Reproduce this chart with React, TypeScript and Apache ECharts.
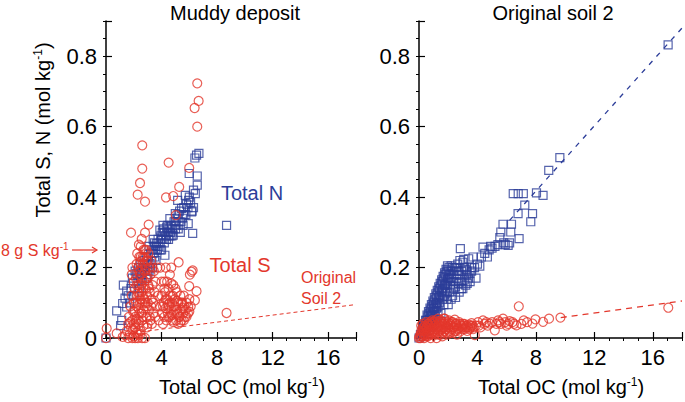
import React, { useEffect, useRef } from "react";
import * as echarts from "echarts";

// ---- Data (Total OC, Total S/N) in mol kg-1 ----
const MUDDY_N: [number, number][] = [
  [0, 0], [0.77, 0.077], [1.13, 0.05], [1.05, 0.035], [1.2, 0.098], [1.25, 0.15], [1.37, 0.113], [1.49, 0.133],
  [1.49, 0.088], [1.6, 0.12], [1.7, 0.1], [1.8, 0.14], [1.9, 0.17], [1.96, 0.155], [2.0, 0.12], [2.1, 0.19],
  [2.21, 0.183], [2.3, 0.16], [2.35, 0.2], [2.4, 0.14], [2.5, 0.21], [2.55, 0.18], [2.6, 0.165], [2.7, 0.2],
  [2.75, 0.22], [2.8, 0.19], [2.9, 0.17], [2.95, 0.21], [3.0, 0.2], [3.05, 0.23], [3.1, 0.19], [3.17, 0.211],
  [3.2, 0.24], [3.3, 0.22], [3.35, 0.2], [3.4, 0.24], [3.45, 0.26], [3.5, 0.23], [3.55, 0.25], [3.6, 0.22],
  [3.65, 0.268], [3.7, 0.25], [3.75, 0.28], [3.8, 0.26], [3.88, 0.306], [3.9, 0.27], [3.95, 0.29], [4.0, 0.25],
  [4.05, 0.3], [4.1, 0.28], [4.15, 0.31], [4.2, 0.27], [4.24, 0.235], [4.3, 0.29], [4.37, 0.315], [4.4, 0.3],
  [4.45, 0.32], [4.5, 0.28], [4.55, 0.31], [4.6, 0.339], [4.65, 0.3], [4.7, 0.32], [4.75, 0.29], [4.84, 0.292],
  [4.9, 0.33], [4.99, 0.353], [5.0, 0.31], [5.05, 0.32], [5.1, 0.34], [5.16, 0.391], [5.2, 0.31], [5.25, 0.33],
  [5.3, 0.36], [5.35, 0.3], [5.44, 0.368], [5.5, 0.34], [5.55, 0.32], [5.6, 0.37], [5.71, 0.405], [5.75, 0.35],
  [5.8, 0.38], [5.92, 0.325], [5.95, 0.391], [5.99, 0.467], [6.09, 0.385], [6.16, 0.358], [6.2, 0.36],
  [6.24, 0.297], [6.3, 0.37], [6.4, 0.511], [6.43, 0.41], [6.52, 0.519], [6.57, 0.46], [6.57, 0.434],
  [6.69, 0.524], [8.68, 0.32],
  [2.3, 0.18], [2.5, 0.17], [2.6, 0.19], [2.8, 0.21], [3.0, 0.18], [3.2, 0.2], [3.3, 0.25], [3.5, 0.27],
  [3.6, 0.26], [3.9, 0.25], [4.0, 0.28], [4.2, 0.3], [4.35, 0.28], [4.5, 0.3], [4.6, 0.29], [4.8, 0.31],
  [5.0, 0.33], [5.2, 0.35], [5.4, 0.33], [5.6, 0.35], [5.9, 0.37], [6.0, 0.4], [6.3, 0.42], [2.9, 0.23],
  [3.1, 0.26], [3.4, 0.28], [4.1, 0.32]
];

const MUDDY_S: [number, number][] = [
  [0, 0], [0.05, 0.027], [0.77, 0.013], [1.37, 0.008], [1.2, 0.003], [1.5, 0.02], [1.6, 0.04], [1.65, 0.06],
  [1.7, 0.01], [1.75, 0.09], [1.8, 0.03], [1.8, 0.299], [1.85, 0.12], [1.9, 0.05], [1.9, 0.2], [1.95, 0.075],
  [2.0, 0.005], [2.0, 0.1], [2.05, 0.14], [2.1, 0.03], [2.1, 0.06], [2.15, 0.17], [2.2, 0.09], [2.2, 0.21],
  [2.25, 0.12], [2.28, 0.407], [2.3, 0.0], [2.3, 0.04], [2.35, 0.15], [2.37, 0.265], [2.4, 0.07], [2.4, 0.19],
  [2.45, 0.44], [2.45, 0.1], [2.5, 0.02], [2.5, 0.23], [2.55, 0.13], [2.57, 0.281], [2.6, 0.05], [2.6, 0.17],
  [2.61, 0.547], [2.61, 0.481], [2.65, 0.21], [2.7, 0.08], [2.7, 0.25], [2.75, 0.11], [2.8, 0.0], [2.8, 0.19],
  [2.81, 0.387], [2.81, 0.299], [2.85, 0.14], [2.9, 0.06], [2.9, 0.22], [2.95, 0.03], [3.0, 0.17], [3.0, 0.1],
  [3.05, 0.24], [3.07, 0.322], [3.1, 0.08], [3.1, 0.2], [3.15, 0.13], [3.2, 0.05], [3.2, 0.18], [3.25, 0.22],
  [3.3, 0.11], [3.35, 0.15], [3.4, 0.07], [3.45, 0.19], [3.5, 0.13], [3.55, 0.16], [3.6, 0.09], [3.7, 0.2],
  [3.75, 0.12], [2.2, 0.015], [2.35, 0.05], [2.45, 0.18], [2.55, 0.07], [2.65, 0.12], [2.75, 0.16], [2.85, 0.2],
  [2.95, 0.09], [3.05, 0.15], [2.25, 0.24], [2.4, 0.23], [2.6, 0.2], [2.75, 0.23], [2.9, 0.25], [2.5, 0.26],
  [2.3, 0.2], [2.15, 0.1], [2.0, 0.16], [1.85, 0.18], [2.7, 0.035], [2.45, 0.01], [2.1, 0.0], [2.6, 0.0],
  [3.0, 0.04], [3.3, 0.04], [2.15, 0.045], [1.95, 0.025],
  [1.6, 0.0], [1.9, 0.0], [1.75, 0.045], [2.05, 0.075], [2.2, 0.055], [2.35, 0.085], [2.5, 0.11], [2.65, 0.06],
  [2.8, 0.09], [2.95, 0.12], [3.1, 0.14], [3.25, 0.09], [2.0, 0.04], [2.3, 0.13], [2.55, 0.15], [2.7, 0.14],
  [2.85, 0.1], [3.15, 0.06], [2.4, 0.12], [2.2, 0.15], [2.6, 0.1], [2.9, 0.17], [3.35, 0.2], [2.45, 0.215],
  [2.65, 0.23], [2.8, 0.25], [3.0, 0.22], [3.4, 0.1], [3.55, 0.06], [2.3, 0.01],
  [3.8, 0.05], [3.9, 0.09], [4.0, 0.12], [4.05, 0.07], [4.1, 0.04], [4.15, 0.1], [4.2, 0.06], [4.2, 0.16],
  [4.25, 0.13], [4.3, 0.085], [4.32, 0.399], [4.35, 0.05], [4.4, 0.11], [4.45, 0.07], [4.5, 0.14], [4.51, 0.498],
  [4.55, 0.09], [4.6, 0.06], [4.6, 0.18], [4.65, 0.12], [4.7, 0.08], [4.75, 0.1], [4.8, 0.05], [4.84, 0.403],
  [4.85, 0.15], [4.9, 0.07], [4.95, 0.11], [5.0, 0.09], [5.03, 0.349], [5.05, 0.05], [5.1, 0.13], [5.15, 0.07],
  [5.2, 0.1], [5.23, 0.215], [5.27, 0.429], [5.3, 0.06], [5.35, 0.12], [5.4, 0.08], [5.45, 0.05], [5.5, 0.1],
  [5.55, 0.07], [5.6, 0.12], [5.65, 0.09], [5.7, 0.06], [5.75, 0.08], [5.8, 0.1], [5.9, 0.07], [5.92, 0.088],
  [5.99, 0.147], [5.99, 0.483], [6.04, 0.18], [6.1, 0.09], [6.16, 0.188], [6.24, 0.192], [6.38, 0.653],
  [6.4, 0.107], [6.52, 0.133], [6.57, 0.6], [6.57, 0.723], [6.67, 0.673], [8.68, 0.071], [4.4, 0.16],
  [4.7, 0.155], [4.0, 0.16], [3.9, 0.2], [4.3, 0.2], [5.2, 0.04], [5.0, 0.14], [4.8, 0.12], [5.6, 0.05],
  [6.0, 0.11], [4.7, 0.2],
  [4.1, 0.09], [4.3, 0.11], [4.45, 0.095], [4.6, 0.1], [4.75, 0.065], [4.9, 0.09], [5.05, 0.08], [5.25, 0.06],
  [5.4, 0.1], [5.55, 0.085], [5.1, 0.105], [4.5, 0.06], [5.8, 0.06], [6.0, 0.075], [4.2, 0.14], [4.85, 0.045],
  [5.35, 0.045]
];

const SOIL2_N: [number, number][] = [
  [0, 0], [0.1, 0.01], [0.15, 0.005], [0.2, 0.02], [0.25, 0.01], [0.3, 0.03], [0.3, 0.015], [0.35, 0.02],
  [0.4, 0.04], [0.4, 0.025], [0.45, 0.03], [0.5, 0.05], [0.5, 0.02], [0.55, 0.04], [0.6, 0.06], [0.6, 0.03],
  [0.65, 0.045], [0.7, 0.07], [0.7, 0.04], [0.75, 0.055], [0.8, 0.08], [0.8, 0.05], [0.85, 0.065], [0.9, 0.09],
  [0.9, 0.06], [0.95, 0.075], [1.0, 0.1], [1.0, 0.05], [1.05, 0.085], [1.1, 0.11], [1.1, 0.075], [1.15, 0.095],
  [1.2, 0.12], [1.2, 0.085], [1.25, 0.1], [1.3, 0.13], [1.3, 0.09], [1.35, 0.115], [1.4, 0.14], [1.4, 0.1],
  [1.45, 0.12], [1.5, 0.15], [1.5, 0.07], [1.55, 0.13], [1.6, 0.16], [1.6, 0.11], [1.65, 0.14], [1.7, 0.17],
  [1.7, 0.12], [1.75, 0.15], [1.8, 0.18], [1.8, 0.125], [1.85, 0.155], [1.9, 0.19], [1.9, 0.13], [1.95, 0.165],
  [2.0, 0.19], [2.0, 0.095], [2.05, 0.17], [2.1, 0.18], [2.15, 0.15], [2.2, 0.19], [2.25, 0.16], [2.3, 0.2],
  [2.35, 0.14], [2.4, 0.18], [2.5, 0.115], [2.55, 0.2], [2.6, 0.17], [2.7, 0.19], [2.75, 0.13], [2.8, 0.22],
  [2.83, 0.254], [2.9, 0.16], [3.0, 0.14], [3.06, 0.223], [3.1, 0.2], [3.2, 0.15], [3.3, 0.19], [3.4, 0.17],
  [3.5, 0.16], [3.6, 0.19], [3.7, 0.23], [3.8, 0.2], [3.9, 0.17], [4.0, 0.21], [4.16, 0.204], [4.27, 0.23],
  [4.38, 0.258], [4.5, 0.24], [4.68, 0.23], [4.8, 0.25], [4.9, 0.26], [5.0, 0.255], [5.2, 0.26], [5.4, 0.265],
  [5.53, 0.285], [5.6, 0.301], [5.75, 0.323], [5.8, 0.27], [5.9, 0.265], [6.1, 0.263], [6.2, 0.27],
  [6.28, 0.301], [6.33, 0.323], [6.45, 0.41], [6.78, 0.353], [6.79, 0.41], [6.85, 0.282], [7.14, 0.41],
  [7.24, 0.377], [7.65, 0.33], [7.77, 0.353], [8.04, 0.412], [8.49, 0.405], [8.88, 0.476], [9.64, 0.512],
  [17.05, 0.832],
  [0.35, 0.035], [0.45, 0.05], [0.55, 0.065], [0.65, 0.075], [0.75, 0.085], [0.85, 0.095], [0.95, 0.105],
  [1.05, 0.115], [1.15, 0.125], [1.25, 0.135], [1.35, 0.145], [1.45, 0.155], [1.55, 0.165], [1.65, 0.175],
  [1.75, 0.185], [1.85, 0.195], [1.95, 0.205], [0.6, 0.045], [0.8, 0.065], [1.0, 0.085], [1.2, 0.1],
  [1.4, 0.12], [1.6, 0.135], [1.8, 0.15], [2.0, 0.17], [2.2, 0.17], [2.4, 0.16], [2.6, 0.19], [2.8, 0.18],
  [3.0, 0.215], [3.2, 0.195], [3.4, 0.225], [3.6, 0.2], [2.1, 0.13], [2.3, 0.12], [2.5, 0.145], [2.7, 0.155],
  [2.9, 0.14], [3.1, 0.165], [3.3, 0.155], [3.5, 0.185], [1.7, 0.095], [1.9, 0.11], [2.2, 0.11], [1.3, 0.065],
  [1.1, 0.06], [0.9, 0.045], [0.7, 0.03], [2.45, 0.2], [2.65, 0.21], [2.2, 0.205], [2.9, 0.19], [3.25, 0.18],
  [2.05, 0.2], [1.15, 0.055]
];

const SOIL2_S: [number, number][] = [
  [0, 0], [0.05, 0.005], [0.1, 0.01], [0.1, 0.0], [0.15, 0.02], [0.2, 0.005], [0.2, 0.015], [0.25, 0.025],
  [0.3, 0.01], [0.3, 0.03], [0.35, 0.0], [0.35, 0.02], [0.4, 0.035], [0.4, 0.01], [0.45, 0.025], [0.5, 0.045],
  [0.5, 0.015], [0.55, 0.03], [0.6, 0.005], [0.6, 0.04], [0.65, 0.02], [0.7, 0.035], [0.7, 0.01], [0.75, 0.045],
  [0.8, 0.025], [0.85, 0.04], [0.9, 0.015], [0.9, 0.05], [0.95, 0.03], [1.0, 0.02], [1.0, 0.045], [1.05, 0.035],
  [1.1, 0.01], [1.1, 0.05], [1.15, 0.025], [1.2, 0.04], [1.25, 0.015], [1.3, 0.055], [1.3, 0.03], [1.35, 0.02],
  [1.4, 0.045], [1.45, 0.035], [1.5, 0.01], [1.5, 0.05], [1.55, 0.025], [1.6, 0.04], [1.65, 0.03], [1.7, 0.055],
  [1.75, 0.02], [1.76, 0.055], [1.8, 0.045], [1.85, 0.035], [1.9, 0.015], [1.95, 0.04], [2.0, 0.03], [2.05, 0.05],
  [2.1, 0.02], [2.15, 0.04], [2.2, 0.035], [2.25, 0.025], [2.3, 0.045], [2.35, 0.015], [2.4, 0.03], [2.45, 0.052],
  [2.5, 0.04], [2.55, 0.02], [2.6, 0.035], [2.7, 0.028], [2.75, 0.045], [2.8, 0.018], [2.9, 0.035], [3.0, 0.025],
  [3.1, 0.04], [3.2, 0.03], [3.3, 0.02], [3.4, 0.038], [3.5, 0.03], [3.6, 0.042], [3.7, 0.025], [3.82, 0.008],
  [3.9, 0.035], [4.04, 0.045], [4.2, 0.03], [4.38, 0.05], [4.5, 0.04], [4.7, 0.035], [4.84, 0.041], [5.0, 0.045],
  [5.19, 0.022], [5.3, 0.04], [5.41, 0.05], [5.6, 0.04], [5.75, 0.055], [5.9, 0.045], [6.0, 0.035], [6.21, 0.048],
  [6.4, 0.045], [6.67, 0.036], [6.83, 0.09], [7.0, 0.04], [7.17, 0.05], [7.4, 0.045], [7.77, 0.041],
  [7.97, 0.053], [8.49, 0.046], [8.9, 0.055], [9.68, 0.058], [17.06, 0.086],
  [0.15, 0.035], [0.25, 0.04], [0.45, 0.005], [0.55, 0.01], [0.65, 0.04], [0.75, 0.02], [0.85, 0.01],
  [0.95, 0.045], [1.05, 0.015], [1.15, 0.045], [1.25, 0.03], [1.35, 0.04], [1.45, 0.02], [1.55, 0.045],
  [1.65, 0.015], [1.75, 0.04], [1.85, 0.025], [1.95, 0.01], [2.05, 0.03], [2.15, 0.015], [2.25, 0.045],
  [2.35, 0.03], [2.45, 0.02], [2.55, 0.04], [2.65, 0.025], [2.8, 0.04], [2.95, 0.03], [3.05, 0.035],
  [3.15, 0.025], [3.25, 0.035], [3.35, 0.03], [3.45, 0.025], [3.55, 0.035], [3.65, 0.035], [3.75, 0.03],
  [1.2, 0.0], [1.6, 0.005], [0.5, 0.03], [2.0, 0.045], [1.3, 0.01], [2.6, 0.01], [3.0, 0.04], [0.8, 0.0],
  [4.1, 0.035], [4.6, 0.045], [5.5, 0.045], [6.1, 0.04], [6.5, 0.04]
];

// Fitted lines for Original soil 2 (dashed)
const FIT_S_LEFT: [number, number][] = [[2, 0.015], [18, 0.095]];
const FIT_S_RIGHT: [number, number][] = [[9.7, 0.058], [18, 0.105]];
const FIT_N_RIGHT: [number, number][] = [[6.2, 0.334], [18, 0.88]];

const X_TICKS = [0, 4, 8, 12, 16];
const Y_TICKS = [0, 0.2, 0.4, 0.6, 0.8];

const RED = "#e3372c";
const BLUE = "#2c3d99";
const FONT = "'Liberation Sans', Arial, Helvetica, sans-serif";

export default function App() {
  const ref = useRef<HTMLDivElement>(null);
  useEffect(() => {
    if (!ref.current) return;
    const chart = echarts.init(ref.current, undefined, { renderer: "svg" });

    const xLabelFmt = (v: number) => {
      const hit = X_TICKS.find((t) => Math.abs(t - v) < 1e-6);
      return hit !== undefined ? String(hit) : "";
    };
    const yLabelFmt = (v: number) => {
      const hit = Y_TICKS.find((t) => Math.abs(t - v) < 1e-6);
      return hit === undefined ? "" : hit === 0 ? "0" : hit.toFixed(1);
    };

    const axisLine = { show: true, onZero: false, lineStyle: { color: "#000", width: 1.5 } };
    const mkX = (g: number) => [
      {
        type: "value", gridIndex: g, min: 0, max: 18, interval: 1,
        axisLine, axisTick: { show: true, length: 3, lineStyle: { color: "#000", width: 1 } },
        axisLabel: { formatter: xLabelFmt, fontSize: 22, color: "#000", margin: 8, fontFamily: FONT },
        splitLine: { show: false },
      },
      {
        type: "value", gridIndex: g, min: 0, max: 18, interval: 4,
        axisLine: { show: false }, axisTick: { show: true, length: 6, lineStyle: { color: "#000", width: 1.2 } },
        axisLabel: { show: false }, splitLine: { show: false },
      },
    ];
    const mkY = (g: number) => [
      {
        type: "value", gridIndex: g, min: 0, max: 0.9, interval: 0.05,
        axisLine, axisTick: { show: true, length: 3, lineStyle: { color: "#000", width: 1 } },
        axisLabel: { formatter: yLabelFmt, fontSize: 22, color: "#000", margin: 9, fontFamily: FONT },
        splitLine: { show: false },
      },
      {
        type: "value", gridIndex: g, min: 0, max: 0.9, interval: 0.2,
        axisLine: { show: false }, axisTick: { show: true, length: 6, lineStyle: { color: "#000", width: 1.2 } },
        axisLabel: { show: false }, splitLine: { show: false },
      },
    ];

    const scatter = (data: [number, number][], idx: number, color: string, symbol: string, size: number) => ({
      type: "scatter", xAxisIndex: idx, yAxisIndex: idx, data, symbol, symbolSize: size,
      itemStyle: { color: "rgba(0,0,0,0)", borderColor: color, borderWidth: 1.2 },
      emphasis: { disabled: true }, silent: true,
    });
    const dashed = (data: [number, number][], idx: number, color: string, width: number, dash: number[]) => ({
      type: "line", xAxisIndex: idx, yAxisIndex: idx, data, showSymbol: false, symbol: "none",
      lineStyle: { color, width, type: dash }, silent: true, z: 1,
    });

    const sup = { fontSize: 12, verticalAlign: "top", fontFamily: FONT, lineHeight: 22 };
    const txt = (x: number, y: number, text: string, size: number, color = "#000", align = "center", rich?: any, rotation = 0) => ({
      type: "text", x, y, rotation, silent: true,
      style: {
        text, fill: color, fontSize: size, fontFamily: FONT, align, verticalAlign: "middle",
        rich: rich ? { sup: { ...rich, fill: color } } : undefined,
      },
    });

    chart.setOption({
      animation: false,
      backgroundColor: "#fff",
      grid: [
        { left: 106, top: 21, width: 250, height: 317, containLabel: false },
        { left: 419, top: 21, width: 263, height: 317, containLabel: false },
      ],
      xAxis: [...mkX(0), ...mkX(1)],
      yAxis: [...mkY(0), ...mkY(1)],
      series: [
        dashed(FIT_S_LEFT, 0, RED, 1, [4, 3]),
        scatter(MUDDY_N, 0, BLUE, "rect", 8),
        scatter(MUDDY_S, 0, RED, "circle", 9),
        dashed(FIT_N_RIGHT, 2, BLUE, 1.3, [5, 6]),
        dashed(FIT_S_RIGHT, 2, RED, 1.3, [6, 5]),
        scatter(SOIL2_N, 2, BLUE, "rect", 8),
        scatter(SOIL2_S, 2, RED, "circle", 9),
      ],
      graphic: [
        txt(235, 13, "Muddy deposit", 20),
        txt(553, 13, "Original soil 2", 20),
        txt(43, 130, "Total S, N (mol kg{sup|-1})", 20, "#000", "center", sup, Math.PI / 2),
        txt(242, 387, "Total OC (mol kg{sup|-1})", 20, "#000", "center", sup),
        txt(561, 387, "Total OC (mol kg{sup|-1})", 20, "#000", "center", sup),
        txt(252, 193, "Total N", 20, BLUE),
        txt(240, 265, "Total S", 20, RED),
        txt(301, 277, "Original", 16, RED, "left"),
        txt(301, 298, "Soil 2", 16, RED, "left"),
        txt(1, 250, "8 g S kg{sup|-1}", 16, RED, "left", { fontSize: 10, verticalAlign: "top", fontFamily: FONT, lineHeight: 18 }),
        { type: "line", silent: true, shape: { x1: 72, y1: 250, x2: 97, y2: 250 }, style: { stroke: RED, lineWidth: 1.2 } },
        { type: "polyline", silent: true, shape: { points: [[92, 247], [97, 250], [92, 253]] }, style: { stroke: RED, lineWidth: 1.2, fill: "none" } },
      ],
    });
    return () => chart.dispose();
  }, []);
  return <div ref={ref} style={{ width: 685, height: 402, position: "absolute", left: 0, top: 0 }} />;
}
